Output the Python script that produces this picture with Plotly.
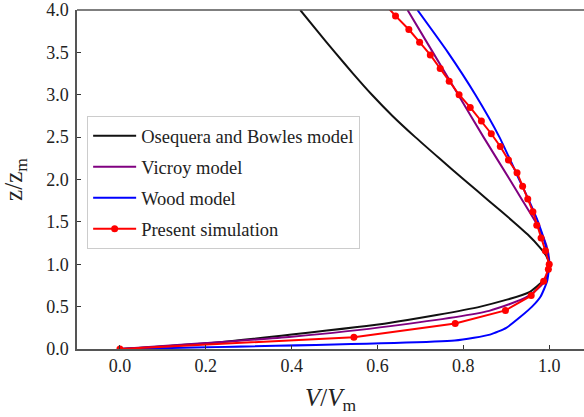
import plotly.graph_objects as go

# Osequera and Bowles model
black_z = [0, 0.075, 0.17, 0.31, 0.50, 0.675, 0.85, 1.0, 1.1, 1.2, 1.35, 1.5, 1.75, 2.0, 2.25, 2.5, 2.75, 3.0,
           3.25, 3.5, 3.75, 4.0]
black_v = [0, 0.22, 0.40, 0.63, 0.84, 0.955, 0.993, 1.0, 0.993, 0.978, 0.95, 0.917, 0.859, 0.801, 0.744, 0.688,
           0.635, 0.587, 0.543, 0.501, 0.46, 0.42]

# Vicroy model
purple_z = [0, 0.07, 0.145, 0.27, 0.45, 0.62, 0.8, 1.0, 1.15, 1.3, 1.5, 1.75, 2.0, 2.5, 3.0, 3.5, 4.0]
purple_v = [0, 0.20, 0.40, 0.63, 0.86, 0.95, 0.99, 1.0, 0.997, 0.988, 0.968, 0.938, 0.908, 0.847, 0.788, 0.729, 0.67]

# Wood model
blue_z = [0, 0.1, 0.17, 0.25, 0.38, 0.5, 0.62, 0.8, 1.0, 1.25, 1.5, 1.75, 2.0, 2.5, 3.0, 3.5, 4.0]
blue_v = [0, 0.78, 0.862, 0.90, 0.933, 0.96, 0.98, 0.995, 1.0, 0.99, 0.974, 0.953, 0.930, 0.884, 0.828, 0.764, 0.693]

# Present simulation
red_z = [0, 0.14, 0.30, 0.455, 0.63, 0.80, 0.94, 1.0, 1.16, 1.31, 1.46, 1.62, 1.77, 1.92, 2.08, 2.23,
         2.39, 2.54, 2.69, 2.85, 3.0, 3.16, 3.31, 3.47, 3.62, 3.77, 3.93, 4.08]
red_v = [0, 0.545, 0.781, 0.898, 0.958, 0.987, 0.998, 1.0, 0.991, 0.981, 0.971, 0.962, 0.950, 0.938, 0.925, 0.905,
         0.886, 0.865, 0.842, 0.816, 0.79, 0.767, 0.746, 0.723, 0.698, 0.673, 0.642, 0.615]

x_ticks = [0.0, 0.2, 0.4, 0.6, 0.8, 1.0]
y_ticks = [0.0, 0.5, 1.0, 1.5, 2.0, 2.5, 3.0, 3.5, 4.0]

FONT = "Liberation Serif"

fig = go.Figure()
fig.add_trace(go.Scatter(x=black_v, y=black_z, mode="lines", name="Osequera and Bowles model",
                         line=dict(color="#111111", width=2, shape="spline", smoothing=0.6), legendgroup="a"))
fig.add_trace(go.Scatter(x=purple_v, y=purple_z, mode="lines", name="Vicroy model",
                         line=dict(color="#800080", width=2, shape="spline", smoothing=0.6), legendgroup="b"))
fig.add_trace(go.Scatter(x=blue_v, y=blue_z, mode="lines", name="Wood model",
                         line=dict(color="#0000ff", width=2, shape="spline", smoothing=0.5), legendgroup="c"))
fig.add_trace(go.Scatter(x=red_v, y=red_z, mode="lines+markers", name="Present simulation",
                         line=dict(color="#ff0000", width=2), marker=dict(color="#ff0000", size=7),
                         legendgroup="d"))

axis_common = dict(showgrid=False, zeroline=False, showline=True, linecolor="#555555", linewidth=1.5,
                   ticks="inside", ticklen=4, tickwidth=1, tickcolor="#333333", mirror=False,
                   tickfont=dict(family=FONT, size=18, color="#222222"), tickformat=".1f")

fig.update_xaxes(range=[-0.1, 1.081], tickvals=x_ticks, **axis_common,
                 title=dict(text="<i>V</i>/<i>V</i><sub>m</sub>", font=dict(family=FONT, size=25, color="#222222"),
                            standoff=13))
fig.update_yaxes(range=[0, 4.0], tickvals=y_ticks, ticklabelstandoff=3, **axis_common,
                 title=dict(text="z/z<sub>m</sub>", font=dict(family=FONT, size=25, color="#222222"),
                            standoff=17))

fig.add_shape(type="line", xref="paper", yref="paper", x0=0, x1=1, y0=1, y1=1,
              line=dict(color="#555555", width=1.5))

fig.update_layout(
    width=584, height=417, autosize=False,
    margin=dict(l=77, r=0, t=10, b=68),
    plot_bgcolor="white", paper_bgcolor="white",
    font=dict(family=FONT, color="#222222"),
    legend=dict(x=0.02, y=0.687, xanchor="left", yanchor="top",
                bordercolor="#cccccc", borderwidth=1, bgcolor="rgba(255,255,255,0.8)",
                font=dict(family=FONT, size=18.5, color="#222222"), tracegroupgap=4, itemwidth=43),
)

fig.write_html("out.html")
